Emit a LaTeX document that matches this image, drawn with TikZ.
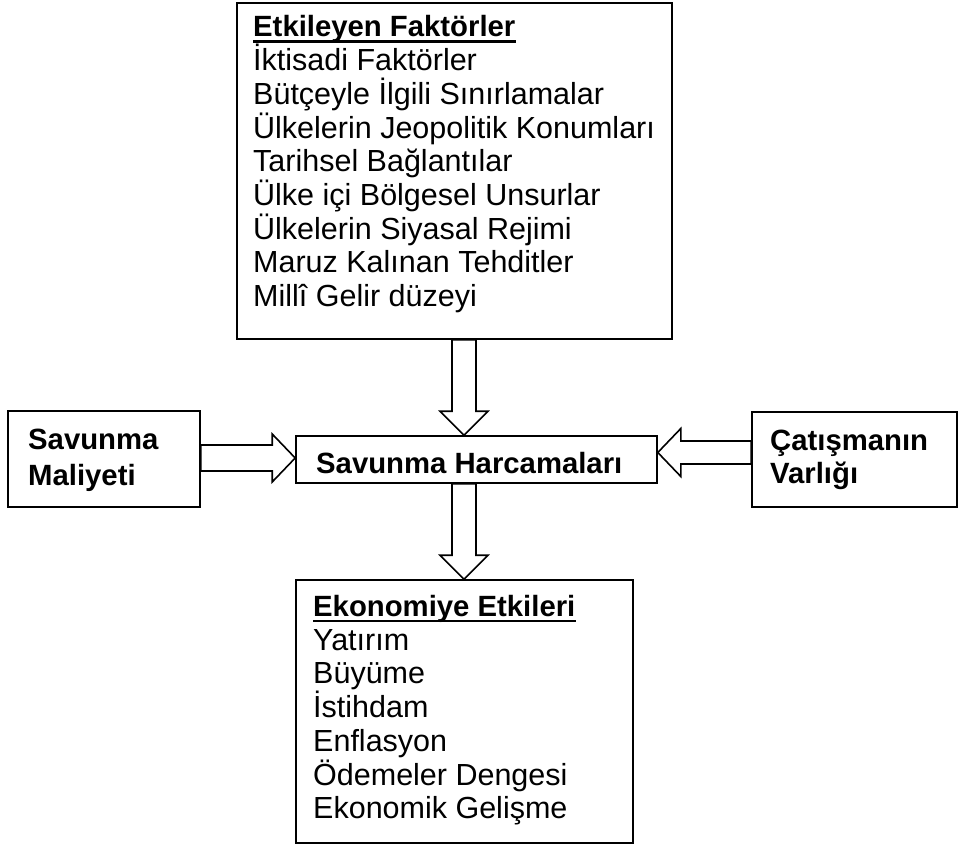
\documentclass[tikz,border=0pt]{standalone}
\usepackage{fontspec}
\setmainfont{Liberation Sans}
\usetikzlibrary{calc}
\begin{document}
\begin{tikzpicture}[x=1pt,y=-1pt,
  box/.style={draw=black,line width=1.6pt,inner sep=0pt,rectangle},
  txt/.style={anchor=base west,inner sep=0pt,font=\fontsize{30.5}{33.7}\selectfont},
  btxt/.style={anchor=base west,inner sep=0pt,font=\fontsize{29.3}{33.7}\selectfont\bfseries},
  uline/.style={line width=2.4pt},
  blk/.style={draw=black,line width=1.6pt,fill=white,line join=miter}]
\useasboundingbox (0,0) rectangle (959,845);
% boxes
\node[box,minimum width=435pt,minimum height=336pt] (top) at (454.5,171) {};
\node[box,minimum width=192pt,minimum height=96pt] (left) at (104,459) {};
\node[box,minimum width=205pt,minimum height=95pt] (right) at (854.5,459.5) {};
\node[box,minimum width=361pt,minimum height=47pt] (mid) at (476.5,459.5) {};
\node[box,minimum width=337pt,minimum height=263pt] (bot) at (464.5,711.5) {};
% top box text
\node[btxt] (t0) at (253,37) {Etkileyen Faktörler};
\draw[uline] ($(t0.base west)+(0,4.5)$) -- ($(t0.base east)+(0,4.5)$);
\node[txt] (t1) at (253,70.7) {İktisadi Faktörler};
\node[txt] (t2) at (253,104.4) {Bütçeyle İlgili Sınırlamalar};
\node[txt] (t3) at (253,138.1) {Ülkelerin Jeopolitik Konumları};
\node[txt] (t4) at (253,171.8) {Tarihsel Bağlantılar};
\node[txt] (t5) at (253,205.5) {Ülke içi Bölgesel Unsurlar};
\node[txt] (t6) at (253,239.2) {Ülkelerin Siyasal Rejimi};
\node[txt] (t7) at (253,272.9) {Maruz Kalınan Tehditler};
\node[txt] (t8) at (253,306.6) {Millî Gelir düzeyi};
% bottom box text
\node[btxt] (b0) at (313,616.5) {Ekonomiye Etkileri};
\draw[uline] ($(b0.base west)+(0,4.5)$) -- ($(b0.base east)+(0,4.5)$);
\node[txt] (b1) at (313,650.2) {Yatırım};
\node[txt] (b2) at (313,683.9) {Büyüme};
\node[txt] (b3) at (313,717.6) {İstihdam};
\node[txt] (b4) at (313,751.3) {Enflasyon};
\node[txt] (b5) at (313,785) {Ödemeler Dengesi};
\node[txt] (b6) at (313,818.7) {Ekonomik Gelişme};
% side and middle text
\node[btxt] (l1) at (28,449) {Savunma};
\node[btxt] (l2) at (28,485.5) {Maliyeti};
\node[btxt] (r1) at (770,450) {Çatışmanın};
\node[btxt] (r2) at (770,483) {Varlığı};
\node[btxt] (m1) at (316,473) {Savunma Harcamaları};
% block arrows
% top -> mid
\draw[blk] let \p1=($(top.south -| mid.center)+(-12.5,0)$), \p2=(mid.north -| \p1) in
  (\x1-12pt,\y1) -- (\x1-12pt,\y2+24pt) -- (\x1-24pt,\y2+24pt) -- (\x2,\y2)
  -- (\x1+24pt,\y2+24pt) -- (\x1+12pt,\y2+24pt) -- (\x1+12pt,\y1) -- cycle;
% mid -> bot
\draw[blk] let \p1=($(mid.south)+(-12.5,0)$), \p2=(bot.north -| \p1) in
  (\x1-12pt,\y1) -- (\x1-12pt,\y2+24pt) -- (\x1-24pt,\y2+24pt) -- (\x2,\y2)
  -- (\x1+24pt,\y2+24pt) -- (\x1+12pt,\y2+24pt) -- (\x1+12pt,\y1) -- cycle;
% left -> mid
\draw[blk] let \p1=($(left.east)+(0,-1)$), \p2=(mid.west |- \p1) in
  (\x1,\y1+13pt) -- (\x2-23pt,\y1+13pt) -- (\x2-23pt,\y1+24pt) -- (\x2,\y1)
  -- (\x2-23pt,\y1-24pt) -- (\x2-23pt,\y1-13pt) -- (\x1,\y1-13pt) -- cycle;
% right -> mid
\draw[blk] let \p1=($(right.west)+(0,-7)$), \p2=(mid.east |- \p1) in
  (\x1,\y1+11.5pt) -- (\x2+23pt,\y1+11.5pt) -- (\x2+23pt,\y1+24pt) -- (\x2,\y1)
  -- (\x2+23pt,\y1-24pt) -- (\x2+23pt,\y1-11.5pt) -- (\x1,\y1-11.5pt) -- cycle;
\end{tikzpicture}
\end{document}
